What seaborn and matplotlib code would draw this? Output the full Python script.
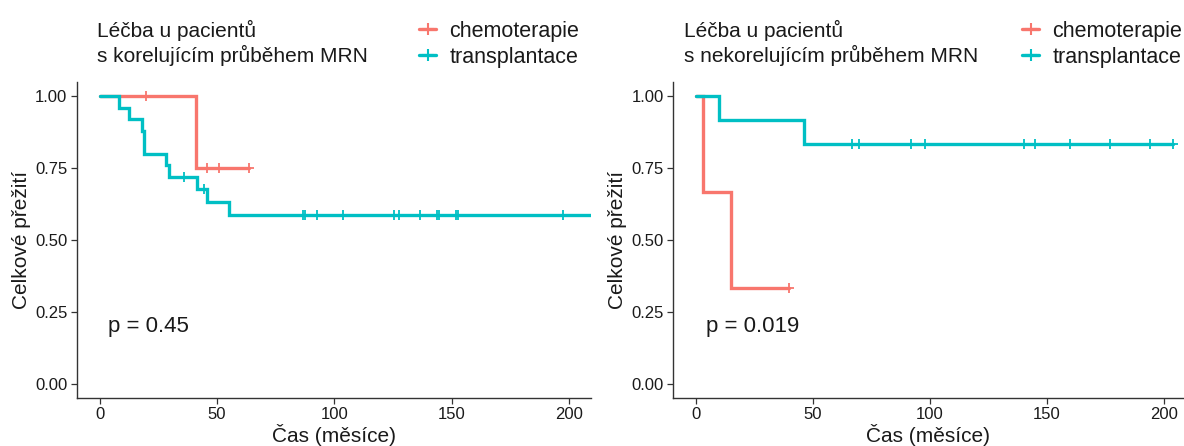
import numpy as np
import pandas as pd
import matplotlib
matplotlib.use("Agg")
import matplotlib.pyplot as plt
import seaborn as sns
from matplotlib.lines import Line2D

# Treatment groups and their colours
groups = ["chemoterapie", "transplantace"]
palette = {"chemoterapie": "#F8766D", "transplantace": "#00BFC4"}

# Panel 1: patients with correlating MRN course (time in months, 1 = death, 0 = censored)
p1_chemo_time = [19.8, 41.1, 45.6, 50.9, 63.5]
p1_chemo_event = [0, 1, 0, 0, 0]
p1_trans_time = [8.4, 12.7, 18.2, 19.0, 19.0, 28.3, 29.7, 35.9, 41.7, 44.6, 45.6,
                 55.1, 86.8, 87.5, 92.6, 103.7, 125.4, 127.4, 136.6, 143.7, 144.6,
                 151.8, 152.5, 197.5, 215.0]
p1_trans_event = [1, 1, 1, 1, 1, 1, 1, 0, 1, 0, 1,
                  1, 0, 0, 0, 0, 0, 0, 0, 0, 0,
                  0, 0, 0, 0]

# Panel 2: patients with non-correlating MRN course
p2_chemo_time = [3.1, 15.1, 39.7]
p2_chemo_event = [1, 1, 0]
p2_trans_time = [10.1, 46.3, 66.7, 69.8, 92.0, 97.8, 140.2, 145.0, 159.8, 177.2,
                 194.0, 203.8]
p2_trans_event = [1, 1, 0, 0, 0, 0, 0, 0, 0, 0, 0, 0]

legend_titles = ["Léčba u pacientů\ns korelujícím průběhem MRN",
                 "Léčba u pacientů\ns nekorelujícím průběhem MRN"]
p_labels = ["p = 0.45", "p = 0.019"]
x_ticks = [0, 50, 100, 150, 200]
y_ticks = [0.00, 0.25, 0.50, 0.75, 1.00]
x_label = "Čas (měsíce)"
y_label = "Celkové přežití"


def kaplan_meier(times, events, group):
    """Return step-curve vertices and censoring points of a KM estimate."""
    t = np.asarray(times, dtype=float)
    e = np.asarray(events, dtype=int)
    at_risk = len(t)
    s = 1.0
    xs, ys = [0.0], [1.0]
    cx, cy = [], []
    for ut in np.unique(t):
        mask = t == ut
        d = int(e[mask].sum())
        c = int(mask.sum()) - d
        if d > 0:
            s_new = s * (1 - d / at_risk)
            xs += [ut, ut]
            ys += [s, s_new]
            s = s_new
        if c > 0:
            cx += [ut] * c
            cy += [s] * c
        at_risk -= int(mask.sum())
    xs.append(t.max())
    ys.append(s)
    curve = pd.DataFrame({"time": xs, "surv": ys, "group": group})
    cens = pd.DataFrame({"time": cx, "surv": cy, "group": group})
    return curve, cens


panels = [
    [(p1_chemo_time, p1_chemo_event), (p1_trans_time, p1_trans_event)],
    [(p2_chemo_time, p2_chemo_event), (p2_trans_time, p2_trans_event)],
]

sns.set_theme(style="white")
plt.rcParams["font.family"] = ["Liberation Sans", "DejaVu Sans"]

W, H = 1184, 446
fig = plt.figure(figsize=(W / 100, H / 100), dpi=100)

# axes rectangles in pixels: (left, right, top, bottom)
ax_px = [(76.5, 591.0, 81.6, 398.4), (672.6, 1184.0, 81.6, 398.4)]
xlims = [(-9.8, 209.3), (-9.9, 208.7)]
legend_px = [(97, 419), (684, 1022)]
p_x = [3.6, 4.4]
text_color = "#1a1a1a"

lw = 2.4
for k, (rect, series) in enumerate(zip(ax_px, panels)):
    l, r, t, b = rect
    ax = fig.add_axes([l / W, (H - b) / H, (r - l) / W, (b - t) / H])
    curves, cens = [], []
    for g, (tt, ee) in zip(groups, series):
        c1, c2 = kaplan_meier(tt, ee, g)
        curves.append(c1)
        cens.append(c2)
    curve_df = pd.concat(curves, ignore_index=True)
    cens_df = pd.concat(cens, ignore_index=True)

    for g in groups:
        sns.lineplot(data=curve_df[curve_df.group == g], x="time", y="surv",
                     color=palette[g], lw=lw, sort=False, estimator=None,
                     ax=ax, legend=False, solid_joinstyle="miter")
        sns.scatterplot(data=cens_df[cens_df.group == g], x="time", y="surv",
                        color=palette[g], marker="+", s=55, linewidth=1.3,
                        ax=ax, legend=False, zorder=3)

    ax.set_xlim(*xlims[k])
    ax.set_ylim(-0.05, 1.05)
    ax.set_xticks(x_ticks)
    ax.set_yticks(y_ticks)
    ax.set_yticklabels([f"{v:.2f}" for v in y_ticks])
    ax.tick_params(axis="both", which="both", length=4, width=0.9, color="#333333",
                   labelsize=12, labelcolor=text_color, pad=2.5,
                   bottom=True, left=True)
    for side in ("top", "right"):
        ax.spines[side].set_visible(False)
    for side in ("left", "bottom"):
        ax.spines[side].set_color("#333333")
        ax.spines[side].set_linewidth(1.0)
    ax.set_xlabel(x_label, fontsize=15, color=text_color, labelpad=1)
    ax.set_ylabel(y_label, fontsize=15, color=text_color, labelpad=3)
    ax.text(p_x[k], 0.2, p_labels[k], fontsize=16, color=text_color,
            ha="left", va="center")

    # legend: title on the left, entries on the right
    tx, lx = legend_px[k]
    title_lines = legend_titles[k].split("\n")
    fig.text(tx / W, 1 - 30 / H, title_lines[0], fontsize=15,
             color=text_color, ha="left", va="center")
    fig.text(tx / W, 1 - 55 / H, title_lines[1], fontsize=15,
             color=text_color, ha="left", va="center")
    handles = [Line2D([0], [0], color=palette[g], lw=lw, marker="+",
                      markersize=8, markeredgewidth=1.5) for g in groups]
    fig.legend(handles, groups, loc="upper left",
               bbox_to_anchor=(lx / W, 1 - 20.5 / H), frameon=False,
               fontsize=15.5, handlelength=0.8, handletextpad=0.6,
               labelspacing=0.25, borderpad=0, borderaxespad=0,
               labelcolor=text_color)

fig.savefig("out.png", dpi=100)
